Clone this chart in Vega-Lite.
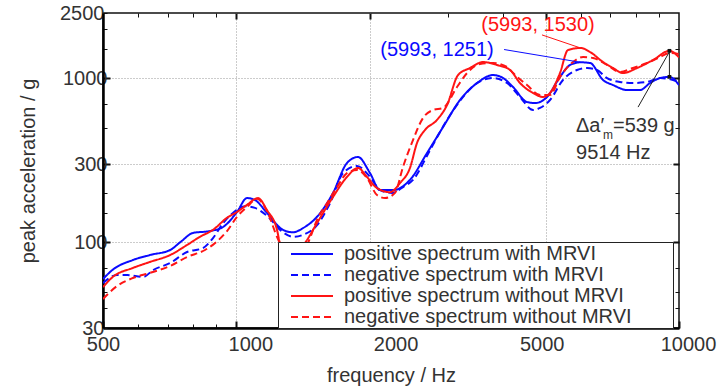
{
  "$schema": "https://vega.github.io/schema/vega-lite/v6.json",
  "width": 576,
  "height": 315,
  "autosize": {"type": "none"},
  "padding": {"left": 103, "top": 13, "right": 49, "bottom": 62},
  "background": "white",
  "config": {
    "view": {"stroke": "#111", "strokeWidth": 1.5, "fill": "white"},
    "font": "Liberation Sans"
  },
  "layer": [
    {
      "data": {
        "values": [
          {"s": "positive spectrum with MRVI", "f": 500, "v": 59.7},
          {"s": "positive spectrum with MRVI", "f": 526, "v": 68},
          {"s": "positive spectrum with MRVI", "f": 584, "v": 77.9},
          {"s": "positive spectrum with MRVI", "f": 638, "v": 83.6},
          {"s": "positive spectrum with MRVI", "f": 709, "v": 89.7},
          {"s": "positive spectrum with MRVI", "f": 747, "v": 100},
          {"s": "positive spectrum with MRVI", "f": 799, "v": 114},
          {"s": "positive spectrum with MRVI", "f": 872, "v": 117},
          {"s": "positive spectrum with MRVI", "f": 934, "v": 124},
          {"s": "positive spectrum with MRVI", "f": 1004, "v": 153},
          {"s": "positive spectrum with MRVI", "f": 1057, "v": 186},
          {"s": "positive spectrum with MRVI", "f": 1102, "v": 181},
          {"s": "positive spectrum with MRVI", "f": 1173, "v": 151},
          {"s": "positive spectrum with MRVI", "f": 1275, "v": 119},
          {"s": "positive spectrum with MRVI", "f": 1343, "v": 115},
          {"s": "positive spectrum with MRVI", "f": 1415, "v": 122},
          {"s": "positive spectrum with MRVI", "f": 1522, "v": 143},
          {"s": "positive spectrum with MRVI", "f": 1654, "v": 200},
          {"s": "positive spectrum with MRVI", "f": 1778, "v": 304},
          {"s": "positive spectrum with MRVI", "f": 1883, "v": 331},
          {"s": "positive spectrum with MRVI", "f": 2005, "v": 264},
          {"s": "positive spectrum with MRVI", "f": 2112, "v": 208},
          {"s": "positive spectrum with MRVI", "f": 2260, "v": 208},
          {"s": "positive spectrum with MRVI", "f": 2468, "v": 240},
          {"s": "positive spectrum with MRVI", "f": 2697, "v": 350},
          {"s": "positive spectrum with MRVI", "f": 2931, "v": 504},
          {"s": "positive spectrum with MRVI", "f": 3202, "v": 737},
          {"s": "positive spectrum with MRVI", "f": 3498, "v": 935},
          {"s": "positive spectrum with MRVI", "f": 3801, "v": 1046},
          {"s": "positive spectrum with MRVI", "f": 4005, "v": 1003},
          {"s": "positive spectrum with MRVI", "f": 4219, "v": 884},
          {"s": "positive spectrum with MRVI", "f": 4537, "v": 716},
          {"s": "positive spectrum with MRVI", "f": 4730, "v": 706},
          {"s": "positive spectrum with MRVI", "f": 5034, "v": 769},
          {"s": "positive spectrum with MRVI", "f": 5385, "v": 1018},
          {"s": "positive spectrum with MRVI", "f": 5673, "v": 1205},
          {"s": "positive spectrum with MRVI", "f": 5993, "v": 1251},
          {"s": "positive spectrum with MRVI", "f": 6297, "v": 1239},
          {"s": "positive spectrum with MRVI", "f": 6736, "v": 976},
          {"s": "positive spectrum with MRVI", "f": 7096, "v": 909},
          {"s": "positive spectrum with MRVI", "f": 7635, "v": 848},
          {"s": "positive spectrum with MRVI", "f": 8167, "v": 848},
          {"s": "positive spectrum with MRVI", "f": 8601, "v": 935},
          {"s": "positive spectrum with MRVI", "f": 9064, "v": 1003},
          {"s": "positive spectrum with MRVI", "f": 9514, "v": 1020},
          {"s": "positive spectrum with MRVI", "f": 10000, "v": 909},

          {"s": "negative spectrum with MRVI", "f": 500, "v": 56.4},
          {"s": "negative spectrum with MRVI", "f": 538, "v": 63.1},
          {"s": "negative spectrum with MRVI", "f": 567, "v": 63.1},
          {"s": "negative spectrum with MRVI", "f": 616, "v": 61.4},
          {"s": "negative spectrum with MRVI", "f": 649, "v": 67.7},
          {"s": "negative spectrum with MRVI", "f": 709, "v": 74.7},
          {"s": "negative spectrum with MRVI", "f": 774, "v": 87.2},
          {"s": "negative spectrum with MRVI", "f": 841, "v": 92.2},
          {"s": "negative spectrum with MRVI", "f": 886, "v": 106},
          {"s": "negative spectrum with MRVI", "f": 934, "v": 131},
          {"s": "negative spectrum with MRVI", "f": 983, "v": 151},
          {"s": "negative spectrum with MRVI", "f": 1047, "v": 166},
          {"s": "negative spectrum with MRVI", "f": 1102, "v": 162},
          {"s": "negative spectrum with MRVI", "f": 1173, "v": 145},
          {"s": "negative spectrum with MRVI", "f": 1275, "v": 115},
          {"s": "negative spectrum with MRVI", "f": 1343, "v": 108},
          {"s": "negative spectrum with MRVI", "f": 1415, "v": 111},
          {"s": "negative spectrum with MRVI", "f": 1522, "v": 127},
          {"s": "negative spectrum with MRVI", "f": 1628, "v": 173},
          {"s": "negative spectrum with MRVI", "f": 1742, "v": 264},
          {"s": "negative spectrum with MRVI", "f": 1874, "v": 292},
          {"s": "negative spectrum with MRVI", "f": 2005, "v": 250},
          {"s": "negative spectrum with MRVI", "f": 2112, "v": 208},
          {"s": "negative spectrum with MRVI", "f": 2248, "v": 200},
          {"s": "negative spectrum with MRVI", "f": 2380, "v": 217},
          {"s": "negative spectrum with MRVI", "f": 2507, "v": 240},
          {"s": "negative spectrum with MRVI", "f": 2740, "v": 365},
          {"s": "negative spectrum with MRVI", "f": 2993, "v": 557},
          {"s": "negative spectrum with MRVI", "f": 3253, "v": 769},
          {"s": "negative spectrum with MRVI", "f": 3498, "v": 935},
          {"s": "negative spectrum with MRVI", "f": 3801, "v": 1003},
          {"s": "negative spectrum with MRVI", "f": 4089, "v": 935},
          {"s": "negative spectrum with MRVI", "f": 4374, "v": 769},
          {"s": "negative spectrum with MRVI", "f": 4681, "v": 640},
          {"s": "negative spectrum with MRVI", "f": 4854, "v": 659},
          {"s": "negative spectrum with MRVI", "f": 5112, "v": 737},
          {"s": "negative spectrum with MRVI", "f": 5469, "v": 976},
          {"s": "negative spectrum with MRVI", "f": 5883, "v": 1123},
          {"s": "negative spectrum with MRVI", "f": 6199, "v": 1155},
          {"s": "negative spectrum with MRVI", "f": 6530, "v": 1123},
          {"s": "negative spectrum with MRVI", "f": 6878, "v": 1003},
          {"s": "negative spectrum with MRVI", "f": 7358, "v": 949},
          {"s": "negative spectrum with MRVI", "f": 7873, "v": 935},
          {"s": "negative spectrum with MRVI", "f": 8465, "v": 949},
          {"s": "negative spectrum with MRVI", "f": 9064, "v": 1003},
          {"s": "negative spectrum with MRVI", "f": 9694, "v": 976},
          {"s": "negative spectrum with MRVI", "f": 10000, "v": 949},

          {"s": "positive spectrum without MRVI", "f": 500, "v": 53.3},
          {"s": "positive spectrum without MRVI", "f": 526, "v": 61.4},
          {"s": "positive spectrum without MRVI", "f": 584, "v": 69.7},
          {"s": "positive spectrum without MRVI", "f": 638, "v": 75.8},
          {"s": "positive spectrum without MRVI", "f": 709, "v": 83.6},
          {"s": "positive spectrum without MRVI", "f": 774, "v": 96.2},
          {"s": "positive spectrum without MRVI", "f": 828, "v": 108},
          {"s": "positive spectrum without MRVI", "f": 886, "v": 119},
          {"s": "positive spectrum without MRVI", "f": 953, "v": 141},
          {"s": "positive spectrum without MRVI", "f": 1004, "v": 153},
          {"s": "positive spectrum without MRVI", "f": 1057, "v": 169},
          {"s": "positive spectrum without MRVI", "f": 1120, "v": 186},
          {"s": "positive spectrum without MRVI", "f": 1173, "v": 157},
          {"s": "positive spectrum without MRVI", "f": 1236, "v": 119},
          {"s": "positive spectrum without MRVI", "f": 1255, "v": 99},
          {"s": "positive spectrum without MRVI", "f": 1336, "v": 80},
          {"s": "positive spectrum without MRVI", "f": 1430, "v": 99},
          {"s": "positive spectrum without MRVI", "f": 1522, "v": 131},
          {"s": "positive spectrum without MRVI", "f": 1654, "v": 189},
          {"s": "positive spectrum without MRVI", "f": 1778, "v": 250},
          {"s": "positive spectrum without MRVI", "f": 1883, "v": 284},
          {"s": "positive spectrum without MRVI", "f": 1974, "v": 250},
          {"s": "positive spectrum without MRVI", "f": 2079, "v": 214},
          {"s": "positive spectrum without MRVI", "f": 2224, "v": 202},
          {"s": "positive spectrum without MRVI", "f": 2344, "v": 230},
          {"s": "positive spectrum without MRVI", "f": 2468, "v": 284},
          {"s": "positive spectrum without MRVI", "f": 2560, "v": 403},
          {"s": "positive spectrum without MRVI", "f": 2669, "v": 484},
          {"s": "positive spectrum without MRVI", "f": 2840, "v": 557},
          {"s": "positive spectrum without MRVI", "f": 2993, "v": 687},
          {"s": "positive spectrum without MRVI", "f": 3169, "v": 1046},
          {"s": "positive spectrum without MRVI", "f": 3373, "v": 1155},
          {"s": "positive spectrum without MRVI", "f": 3608, "v": 1256},
          {"s": "positive spectrum without MRVI", "f": 3881, "v": 1205},
          {"s": "positive spectrum without MRVI", "f": 4154, "v": 1123},
          {"s": "positive spectrum without MRVI", "f": 4374, "v": 935},
          {"s": "positive spectrum without MRVI", "f": 4681, "v": 813},
          {"s": "positive spectrum without MRVI", "f": 4930, "v": 769},
          {"s": "positive spectrum without MRVI", "f": 5112, "v": 813},
          {"s": "positive spectrum without MRVI", "f": 5385, "v": 1076},
          {"s": "positive spectrum without MRVI", "f": 5614, "v": 1487},
          {"s": "positive spectrum without MRVI", "f": 5993, "v": 1530},
          {"s": "positive spectrum without MRVI", "f": 6297, "v": 1446},
          {"s": "positive spectrum without MRVI", "f": 6736, "v": 1256},
          {"s": "positive spectrum without MRVI", "f": 7096, "v": 1155},
          {"s": "positive spectrum without MRVI", "f": 7477, "v": 1076},
          {"s": "positive spectrum without MRVI", "f": 8041, "v": 1155},
          {"s": "positive spectrum without MRVI", "f": 8741, "v": 1292},
          {"s": "positive spectrum without MRVI", "f": 9514, "v": 1470},
          {"s": "positive spectrum without MRVI", "f": 10000, "v": 1340},

          {"s": "negative spectrum without MRVI", "f": 500, "v": 45.1},
          {"s": "negative spectrum without MRVI", "f": 538, "v": 54.1},
          {"s": "negative spectrum without MRVI", "f": 584, "v": 60.5},
          {"s": "negative spectrum without MRVI", "f": 638, "v": 65},
          {"s": "negative spectrum without MRVI", "f": 709, "v": 71.7},
          {"s": "negative spectrum without MRVI", "f": 774, "v": 81.3},
          {"s": "negative spectrum without MRVI", "f": 850, "v": 89.7},
          {"s": "negative spectrum without MRVI", "f": 896, "v": 99},
          {"s": "negative spectrum without MRVI", "f": 953, "v": 117},
          {"s": "negative spectrum without MRVI", "f": 1004, "v": 143},
          {"s": "negative spectrum without MRVI", "f": 1057, "v": 164},
          {"s": "negative spectrum without MRVI", "f": 1114, "v": 184},
          {"s": "negative spectrum without MRVI", "f": 1173, "v": 155},
          {"s": "negative spectrum without MRVI", "f": 1236, "v": 108},
          {"s": "negative spectrum without MRVI", "f": 1336, "v": 75},
          {"s": "negative spectrum without MRVI", "f": 1452, "v": 99},
          {"s": "negative spectrum without MRVI", "f": 1522, "v": 137},
          {"s": "negative spectrum without MRVI", "f": 1603, "v": 173},
          {"s": "negative spectrum without MRVI", "f": 1689, "v": 217},
          {"s": "negative spectrum without MRVI", "f": 1778, "v": 264},
          {"s": "negative spectrum without MRVI", "f": 1874, "v": 276},
          {"s": "negative spectrum without MRVI", "f": 1974, "v": 246},
          {"s": "negative spectrum without MRVI", "f": 2079, "v": 194},
          {"s": "negative spectrum without MRVI", "f": 2168, "v": 186},
          {"s": "negative spectrum without MRVI", "f": 2283, "v": 200},
          {"s": "negative spectrum without MRVI", "f": 2380, "v": 288},
          {"s": "negative spectrum without MRVI", "f": 2507, "v": 420},
          {"s": "negative spectrum without MRVI", "f": 2641, "v": 572},
          {"s": "negative spectrum without MRVI", "f": 2782, "v": 640},
          {"s": "negative spectrum without MRVI", "f": 2931, "v": 659},
          {"s": "negative spectrum without MRVI", "f": 3152, "v": 884},
          {"s": "negative spectrum without MRVI", "f": 3322, "v": 1076},
          {"s": "negative spectrum without MRVI", "f": 3553, "v": 1222},
          {"s": "negative spectrum without MRVI", "f": 3801, "v": 1239},
          {"s": "negative spectrum without MRVI", "f": 4089, "v": 1171},
          {"s": "negative spectrum without MRVI", "f": 4219, "v": 1076},
          {"s": "negative spectrum without MRVI", "f": 4537, "v": 909},
          {"s": "negative spectrum without MRVI", "f": 4854, "v": 790},
          {"s": "negative spectrum without MRVI", "f": 5112, "v": 790},
          {"s": "negative spectrum without MRVI", "f": 5385, "v": 1018},
          {"s": "negative spectrum without MRVI", "f": 5764, "v": 1256},
          {"s": "negative spectrum without MRVI", "f": 6071, "v": 1348},
          {"s": "negative spectrum without MRVI", "f": 6397, "v": 1329},
          {"s": "negative spectrum without MRVI", "f": 6878, "v": 1205},
          {"s": "negative spectrum without MRVI", "f": 7358, "v": 1092},
          {"s": "negative spectrum without MRVI", "f": 7873, "v": 1155},
          {"s": "negative spectrum without MRVI", "f": 8465, "v": 1239},
          {"s": "negative spectrum without MRVI", "f": 9064, "v": 1348},
          {"s": "negative spectrum without MRVI", "f": 9514, "v": 1426},
          {"s": "negative spectrum without MRVI", "f": 10000, "v": 1407}
        ]
      },
      "mark": {"type": "line", "interpolate": "monotone", "strokeWidth": 2, "clip": true},
      "encoding": {
        "x": {
          "field": "f", "type": "quantitative",
          "scale": {"type": "log", "domain": [500, 10000], "nice": false},
          "axis": {
            "orient": "bottom",
            "title": "frequency / Hz",
            "values": [500, 600, 700, 800, 900, 1000, 2000, 3000, 4000, 5000, 6000, 7000, 8000, 9000, 10000],
            "labelExpr": "indexof([500,1000,2000,5000,10000], datum.value) >= 0 ? '' + datum.value : ''",
            "labelOverlap": false,
            "labelFlush": false,
            "labelFontSize": 20,
            "labelColor": "#333",
            "labelPadding": 13,
            "labelOffset": {"condition": [
              {"test": "datum.value === 1000", "value": 14},
              {"test": "datum.value === 2000", "value": 26},
              {"test": "datum.value === 5000", "value": -4},
              {"test": "datum.value === 10000", "value": 9}
            ], "value": 0},
            "tickSize": {"condition": {"test": "indexof([500,1000,2000,5000,10000], datum.value) >= 0", "value": -7}, "value": -4},
            "tickWidth": {"condition": {"test": "indexof([500,1000,2000,5000,10000], datum.value) >= 0", "value": 2}, "value": 1},
            "tickColor": "#111",
            "grid": true,
            "gridDash": [1, 2],
            "gridColor": "#999",
            "gridWidth": 1,
            "gridOpacity": {"condition": {"test": "indexof([1000,2000,5000], datum.value) >= 0", "value": 1}, "value": 0},
            "domainColor": "#000",
            "domainWidth": 2.5,
            "titleFontSize": 20,
            "titleFontWeight": "normal",
            "titleColor": "#333",
            "titlePadding": 8
          }
        },
        "y": {
          "field": "v", "type": "quantitative",
          "scale": {"type": "log", "domain": [30, 2500], "nice": false},
          "axis": {
            "orient": "left",
            "title": "peak acceleration / g",
            "values": [30, 40, 50, 70, 100, 150, 200, 300, 500, 700, 1000, 1500, 2000, 2500],
            "labelExpr": "indexof([30,100,300,1000,2500], datum.value) >= 0 ? '' + datum.value : ''",
            "labelOverlap": false,
            "labelFontSize": 20,
            "labelColor": "#333",
            "labelPadding": 3,
            "tickSize": {"condition": {"test": "indexof([100,300,1000], datum.value) >= 0", "value": -7}, "value": -4},
            "tickWidth": {"condition": {"test": "indexof([100,300,1000], datum.value) >= 0", "value": 2}, "value": 1},
            "tickColor": "#111",
            "grid": true,
            "gridDash": [1, 2],
            "gridColor": "#999",
            "gridWidth": 1,
            "gridOpacity": {"condition": {"test": "indexof([100,300,1000], datum.value) >= 0", "value": 1}, "value": 0},
            "domainColor": "#000",
            "domainWidth": 2.5,
            "titleFontSize": 20,
            "titleFontWeight": "normal",
            "titleColor": "#333",
            "titlePadding": 21
          }
        },
        "color": {
          "field": "s", "type": "nominal",
          "scale": {
            "domain": ["positive spectrum with MRVI", "negative spectrum with MRVI", "positive spectrum without MRVI", "negative spectrum without MRVI"],
            "range": ["#0a0aff", "#0a0aff", "#ff1414", "#ff1414"]
          },
          "legend": {
            "title": null,
            "orient": "none",
            "legendX": 175,
            "legendY": 229,
            "padding": 1,
            "symbolOffset": 22,
            "symbolType": "M-2.1,0H2.1",
            "symbolSize": 400,
            "symbolStrokeWidth": 2,
            "labelFontSize": 20,
            "labelColor": "#333",
            "labelLimit": 600,
            "labelOffset": 21,
            "labelExpr": "datum.label + '\u2003\u2003\u200b'",
            "rowPadding": 0,
            "fillColor": "white",
            "strokeColor": "#222"
          }
        },
        "strokeDash": {
          "field": "s", "type": "nominal",
          "scale": {
            "domain": ["positive spectrum with MRVI", "negative spectrum with MRVI", "positive spectrum without MRVI", "negative spectrum without MRVI"],
            "range": [[1, 0], [7, 4], [1, 0], [7, 4]]
          },
          "legend": {
            "title": null,
            "orient": "none",
            "legendX": 175,
            "legendY": 229,
            "padding": 1,
            "symbolOffset": 22,
            "symbolType": "M-2.1,0H2.1",
            "symbolSize": 400,
            "symbolStrokeWidth": 2,
            "labelFontSize": 20,
            "labelColor": "#333",
            "labelLimit": 600,
            "labelOffset": 21,
            "labelExpr": "datum.label + '\u2003\u2003\u200b'",
            "rowPadding": 0,
            "fillColor": "white",
            "strokeColor": "#222"
          }
        }
      }
    },
    {
      "data": {
        "values": [
          {"k": "red", "f": 4904, "v": 1838, "f2": 5993, "v2": 1530},
          {"k": "blue", "f": 4026, "v": 1497, "f2": 5993, "v2": 1251},
          {"k": "black", "f": 8082, "v": 667, "f2": 9514, "v2": 1450},
          {"k": "black", "f": 9514, "v": 1020, "f2": 9514, "v2": 1470}
        ]
      },
      "mark": {"type": "rule", "strokeWidth": 1},
      "encoding": {
        "x": {
          "field": "f", "type": "quantitative",
          "axis": {
            "orient": "top", "title": null, "labels": false, "domain": false, "grid": false,
            "values": [600, 700, 800, 900, 1000, 2000, 3000, 4000, 5000, 6000, 7000, 8000, 9000],
            "tickSize": {"condition": {"test": "indexof([1000,2000,5000], datum.value) >= 0", "value": -6}, "value": -4},
            "tickWidth": {"condition": {"test": "indexof([1000,2000,5000], datum.value) >= 0", "value": 2}, "value": 1},
            "tickColor": "#111"
          }
        },
        "x2": {"field": "f2"},
        "y": {
          "field": "v", "type": "quantitative",
          "axis": {
            "orient": "right", "title": null, "labels": false, "domain": false, "grid": false,
            "values": [40, 50, 70, 100, 150, 200, 300, 500, 700, 1000, 1500, 2000],
            "tickSize": {"condition": {"test": "indexof([100,300,1000], datum.value) >= 0", "value": -6}, "value": -4},
            "tickWidth": {"condition": {"test": "indexof([100,300,1000], datum.value) >= 0", "value": 2}, "value": 1},
            "tickColor": "#111"
          }
        },
        "y2": {"field": "v2"},
        "color": {"condition": [
          {"test": "datum.k === 'red'", "value": "#ff1414"},
          {"test": "datum.k === 'blue'", "value": "#0a0aff"}
        ], "value": "#222"}
      }
    },
    {
      "data": {"values": [{"f": 9514, "v": 1020}, {"f": 9514, "v": 1470}]},
      "mark": {"type": "point", "shape": "square", "filled": true, "size": 14, "color": "#111", "opacity": 1},
      "encoding": {
        "x": {"field": "f", "type": "quantitative", "axis": null},
        "y": {"field": "v", "type": "quantitative", "axis": null}
      }
    },
    {
      "data": {
        "values": [
          {"k": "red", "f": 4804, "v": 2118, "t": "(5993, 1530)"},
          {"k": "blue", "f": 2840, "v": 1487, "t": "(5993, 1251)"}
        ]
      },
      "mark": {"type": "text", "fontSize": 20, "align": "center", "baseline": "middle", "font": "Liberation Sans"},
      "encoding": {
        "x": {"field": "f", "type": "quantitative", "axis": null},
        "y": {"field": "v", "type": "quantitative", "axis": null},
        "text": {"field": "t"},
        "color": {"condition": {"test": "datum.k === 'red'", "value": "#ff1414"}, "value": "#0a0aff"}
      }
    },
    {
      "data": {
        "values": [
          {"f": 5853, "v": 508, "t": "Δa′"},
          {"f": 5853, "v": 348, "t": "9514 Hz"}
        ]
      },
      "mark": {"type": "text", "fontSize": 20, "align": "left", "baseline": "middle", "color": "#333", "font": "Liberation Sans"},
      "encoding": {
        "x": {"field": "f", "type": "quantitative", "axis": null},
        "y": {"field": "v", "type": "quantitative", "axis": null},
        "text": {"field": "t"}
      }
    },
    {
      "data": {"values": [{"f": 5853, "v": 508, "t": "m"}]},
      "mark": {"type": "text", "fontSize": 12, "align": "left", "baseline": "middle", "color": "#333", "dx": 27, "dy": 9, "font": "Liberation Sans"},
      "encoding": {
        "x": {"field": "f", "type": "quantitative", "axis": null},
        "y": {"field": "v", "type": "quantitative", "axis": null},
        "text": {"field": "t"}
      }
    },
    {
      "data": {"values": [{"f": 5853, "v": 508, "t": "=539 g"}]},
      "mark": {"type": "text", "fontSize": 20, "align": "left", "baseline": "middle", "color": "#333", "dx": 37, "font": "Liberation Sans"},
      "encoding": {
        "x": {"field": "f", "type": "quantitative", "axis": null},
        "y": {"field": "v", "type": "quantitative", "axis": null},
        "text": {"field": "t"}
      }
    }
  ],
  "resolve": {"axis": {"x": "independent", "y": "independent"}}
}
